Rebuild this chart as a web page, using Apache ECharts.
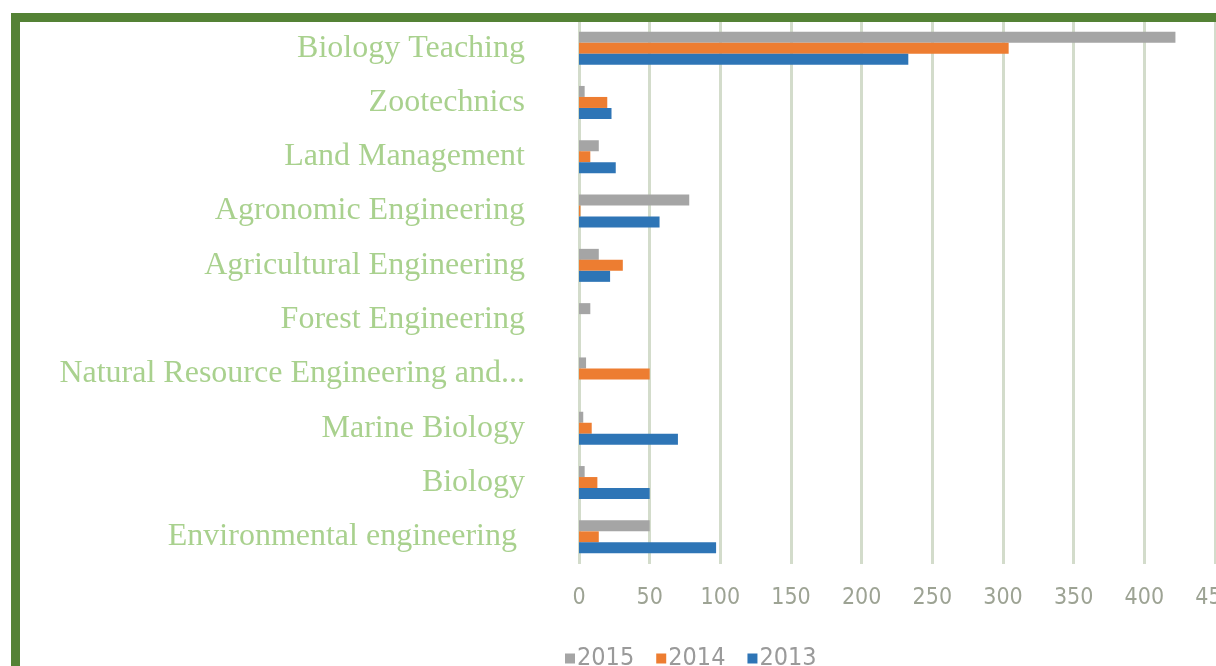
<!DOCTYPE html>
<html>
<head>
<meta charset="utf-8">
<title>Enrollment by programme</title>
<script src="https://cdn.jsdelivr.net/npm/echarts@6/dist/echarts.min.js"></script>
<style>
  html, body { margin: 0; padding: 0; background: #fff; }
  #chart { width: 1216px; height: 666px; }
</style>
</head>
<body>
<div id="chart"></div>
<script>
// categories, top to bottom
var programmes = [
    'Biology Teaching',
    'Zootechnics',
    'Land Management',
    'Agronomic Engineering',
    'Agricultural Engineering',
    'Forest Engineering',
    'Natural Resource Engineering and...',
    'Marine Biology',
    'Biology',
    'Environmental engineering '
];
var years = ['2015', '2014', '2013'];
var v2015 = [422, 4, 14, 78, 14, 8, 5, 3, 4, 50];
var v2014 = [304, 20, 8, 1, 31, 0, 50, 9, 13, 14];
var v2013 = [233, 23, 26, 57, 22, 0, 0, 70, 50, 97];
var xTicks = [0, 50, 100, 150, 200, 250, 300, 350, 400, 450];

var colors = ['#a5a5a5', '#ed7d31', '#2e75b6'];
var frameColor = '#548235';
var narrowFont = 'DejaVu Sans Condensed, Liberation Sans Narrow, sans-serif';

var myChart = echarts.init(document.getElementById('chart'));

function makeSeries(name, data, color) {
    return {
        name: name,
        type: 'bar',
        data: data,
        barWidth: 11,
        barGap: '0%',
        itemStyle: { color: color },
        animation: false
    };
}

var option = {
    animation: false,
    grid: {
        left: 579,
        right: 1,
        top: 21,
        bottom: 102,
        containLabel: false,
        outerBoundsMode: 'none'
    },
    legend: {
        data: years,
        left: 560,
        top: 641,
        itemWidth: 10,
        itemHeight: 10,
        itemGap: 22,
        icon: 'rect',
        textStyle: {
            fontFamily: narrowFont,
            fontSize: 25,
            color: '#9a9a9a',
            padding: [0, 0, 0, -3]
        }
    },
    xAxis: {
        type: 'value',
        min: xTicks[0],
        max: xTicks[xTicks.length - 1],
        interval: 50,
        axisLine: { show: false },
        axisTick: { show: false },
        splitLine: { lineStyle: { color: '#d3dccb', width: 3 } },
        axisLabel: {
            margin: 23,
            fontFamily: narrowFont,
            fontSize: 23,
            color: '#9da394'
        }
    },
    yAxis: {
        type: 'category',
        data: programmes,
        inverse: true,
        axisLine: { show: false },
        axisTick: { show: false },
        axisLabel: {
            margin: 54,
            fontFamily: 'Liberation Serif, Times New Roman, serif',
            fontSize: 32,
            color: '#a9d18e'
        }
    },
    series: [
        makeSeries(years[0], v2015, colors[0]),
        makeSeries(years[1], v2014, colors[1]),
        makeSeries(years[2], v2013, colors[2])
    ],
    graphic: [
        {
            type: 'rect',
            z: 100,
            shape: { x: 11, y: 13, width: 1205, height: 9 },
            style: { fill: frameColor }
        },
        {
            type: 'rect',
            z: 100,
            shape: { x: 11, y: 13, width: 9, height: 653 },
            style: { fill: frameColor }
        }
    ]
};

myChart.setOption(option);
</script>
</body>
</html>
